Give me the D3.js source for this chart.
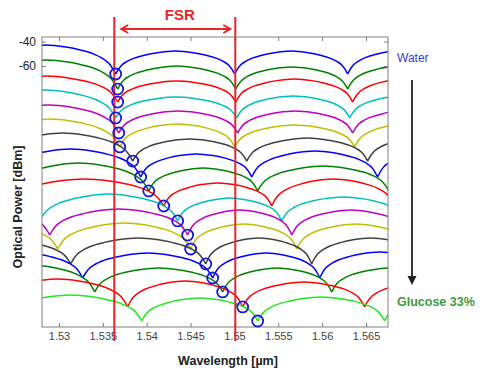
<!DOCTYPE html>
<html>
<head>
<meta charset="utf-8">
<script src="https://cdn.jsdelivr.net/npm/d3@7"></script>
<style>
body { margin: 0; background: #fff; }
svg { display: block; font-family: "Liberation Sans", Arial, Helvetica, sans-serif; }
</style>
</head>
<body>
<svg id="chart"></svg>
<script>
var width = 480;
var height = 371;

// axis ticks
var waveTicks = [1.53, 1.535, 1.54, 1.545, 1.55, 1.555, 1.56, 1.565];
var powerTicks = [-40, -60];

// one trace per glucose step, water on top
var traceColors = ["#0000ff", "#008000", "#ff0000", "#00bfbf", "#bf00bf", "#bfbf00", "#404040",
                   "#0000ff", "#008000", "#ff0000", "#00bfbf", "#bf00bf", "#bfbf00", "#404040",
                   "#0000ff", "#008000", "#ff0000", "#22e622"];

// resonance wavelengths of every trace [um] (first/last ones lie just outside the window)
var traceDips = [
  [1.52027, 1.53646, 1.55003, 1.56291, 1.57637],
  [1.52050, 1.53669, 1.55015, 1.56291, 1.57637],
  [1.52050, 1.53669, 1.55015, 1.56348, 1.57682],
  [1.52027, 1.53646, 1.55026, 1.56314, 1.57660],
  [1.52085, 1.53681, 1.55037, 1.56348, 1.57682],
  [1.52096, 1.53692, 1.55003, 1.56371, 1.57705],
  [1.52244, 1.53840, 1.55140, 1.56519, 1.57853],
  [1.52335, 1.53931, 1.55197, 1.56633, 1.57967],
  [1.52427, 1.54023, 1.55265, 1.56759, 1.58081],
  [1.52381, 1.54194, 1.55425, 1.56827, 1.58161],
  [1.51241, 1.52780, 1.54353, 1.55539, 1.56941, 1.58252],
  [1.51355, 1.52894, 1.54467, 1.55653, 1.56998],
  [1.51469, 1.52985, 1.54501, 1.55710, 1.57055],
  [1.51640, 1.53133, 1.54673, 1.55881, 1.57226],
  [1.51754, 1.53270, 1.54752, 1.55972, 1.57340],
  [1.51925, 1.53407, 1.54866, 1.56109, 1.57454],
  [1.52187, 1.53783, 1.55094, 1.56485, 1.57853],
  [1.52324, 1.53943, 1.55265, 1.56713, 1.58081]
];

// power at the bottom of the notches [dBm]
var dipLevel = [-66.5, -78.8, -89.4, -102.4, -114.7, -126.1, -137.6, -150.6, -162.0,
                -174.3, -186.5, -198.0, -209.4, -221.6, -233.1, -244.5, -256.7, -268.2];

// power at the top of each arch between two notches [dBm]
var archTop = [
  [-42.9, -47.8, -47.8, -46.9],
  [-55.1, -60.0, -60.8, -59.2],
  [-68.2, -72.2, -70.6, -69.8],
  [-79.6, -85.3, -84.5, -83.7],
  [-91.8, -96.7, -96.7, -95.9],
  [-103.3, -107.3, -108.2, -106.5],
  [-114.7, -119.6, -118.8, -118.0],
  [-127.8, -131.8, -129.4, -129.4],
  [-139.2, -143.3, -141.6, -141.6],
  [-152.2, -155.5, -152.2, -153.1],
  [-165.3, -164.5, -167.8, -166.9, -166.9],
  [-176.7, -176.7, -177.5, -177.5],
  [-189.0, -188.2, -189.0, -189.0],
  [-202.2, -200.4, -200.4, -200.4],
  [-211.8, -212.7, -212.7, -211.8],
  [-222.4, -224.9, -224.9, -224.9],
  [-233.9, -235.5, -236.3, -236.3],
  [-247.0, -249.4, -248.6, -247.8]
];

// tracked resonance (circled) for each trace [um]
var circledDip = [1.53646, 1.53669, 1.53669, 1.53646, 1.53681, 1.53692, 1.53840, 1.53931, 1.54023,
                  1.54194, 1.54353, 1.54467, 1.54501, 1.54673, 1.54752, 1.54866, 1.55094, 1.55265];

// FSR markers [um]
var fsrMarks = [1.5363, 1.5501];

// notch profile: position in arch -> fraction of arch height
var notchPos = [0, 0.02, 0.05, 0.1, 0.15, 0.25, 0.35, 0.5];
var notchRise = [0, 0.18, 0.38, 0.56, 0.68, 0.83, 0.93, 1];

var svg = d3.select("#chart")
    .attr("width", width)
    .attr("height", height);

var x = d3.scaleLinear().domain([1.52806, 1.56751]).range([42, 388]);
var y = d3.scaleLinear().domain([-273.1, -36.3]).range([327, 37]);

svg.append("clipPath")
    .attr("id", "plot-clip")
  .append("rect")
    .attr("x", x.range()[0])
    .attr("y", y.range()[1])
    .attr("width", x.range()[1] - x.range()[0])
    .attr("height", y.range()[0] - y.range()[1]);

var line = d3.line()
    .x(function(d) { return x(d[0]); })
    .y(function(d) { return y(d[1]); })
    .curve(d3.curveMonotoneX);

function archPoints(a, b, lo, hi) {
  var pts = [];
  notchPos.forEach(function(f, i) {
    pts.push([a + f * (b - a), lo + notchRise[i] * (hi - lo)]);
  });
  for (var i = notchPos.length - 2; i >= 0; i--) {
    pts.push([b - notchPos[i] * (b - a), lo + notchRise[i] * (hi - lo)]);
  }
  return pts;
}

var traces = svg.append("g").attr("clip-path", "url(#plot-clip)");

traceDips.forEach(function(dips, t) {
  var d = "";
  for (var k = 0; k < dips.length - 1; k++) {
    d += line(archPoints(dips[k], dips[k + 1], dipLevel[t], archTop[t][k]));
  }
  traces.append("path")
      .attr("d", d)
      .attr("fill", "none")
      .attr("stroke", traceColors[t])
      .attr("stroke-width", 1.5)
      .attr("stroke-linejoin", "round");
});

// axes
var axisColor = "#808080";
var plain = function(d) { return String(d); };
var xAxis = svg.append("g")
    .attr("transform", "translate(0," + y.range()[0] + ")")
    .call(d3.axisBottom(x).tickValues(waveTicks).tickSizeInner(-4).tickSizeOuter(0).tickPadding(5)
      .tickFormat(plain));
svg.append("g")
    .attr("transform", "translate(0," + y.range()[1] + ")")
    .call(d3.axisTop(x).tickValues(waveTicks).tickSizeInner(-4).tickSizeOuter(0).tickFormat(""));
var yAxis = svg.append("g")
    .attr("transform", "translate(" + x.range()[0] + ",0)")
    .call(d3.axisLeft(y).tickValues(powerTicks).tickSizeInner(-4).tickSizeOuter(0).tickPadding(6)
      .tickFormat(plain));
svg.append("g")
    .attr("transform", "translate(" + x.range()[1] + ",0)")
    .call(d3.axisRight(y).tickValues(powerTicks).tickSizeInner(-4).tickSizeOuter(0).tickFormat(""));

svg.selectAll(".domain").remove();
svg.selectAll(".tick line").attr("stroke", axisColor);
xAxis.selectAll("text").attr("font-size", 11).attr("fill", "#444").attr("font-family", null);
yAxis.selectAll("text").attr("font-size", 12).attr("fill", "#222").attr("font-family", null);

svg.append("rect")
    .attr("x", x.range()[0])
    .attr("y", y.range()[1])
    .attr("width", x.range()[1] - x.range()[0])
    .attr("height", y.range()[0] - y.range()[1])
    .attr("fill", "none")
    .attr("stroke", axisColor)
    .attr("stroke-width", 1);

// FSR markers
svg.selectAll(".fsr")
    .data(fsrMarks)
  .enter().append("line")
    .attr("class", "fsr")
    .attr("x1", function(d) { return x(d); })
    .attr("x2", function(d) { return x(d); })
    .attr("y1", 17)
    .attr("y2", 341)
    .attr("stroke", "#e8262a")
    .attr("stroke-width", 2);

var ay = 29, ax1 = x(fsrMarks[0]) + 7, ax2 = x(fsrMarks[1]) - 5;
svg.append("path")
    .attr("d", "M" + ax1 + "," + ay + "H" + ax2 +
               "M" + (ax1 + 7) + "," + (ay - 4) + "L" + ax1 + "," + ay + "L" + (ax1 + 7) + "," + (ay + 4) +
               "M" + (ax2 - 7) + "," + (ay - 4) + "L" + ax2 + "," + ay + "L" + (ax2 - 7) + "," + (ay + 4))
    .attr("fill", "none")
    .attr("stroke", "#e8262a")
    .attr("stroke-width", 2);

svg.append("text")
    .attr("x", (ax1 + ax2) / 2 + 4)
    .attr("y", 20)
    .attr("text-anchor", "middle")
    .attr("font-size", 15)
    .attr("font-weight", "bold")
    .attr("fill", "#e8262a")
    .text("FSR");

// circled resonances
svg.append("g").selectAll("circle")
    .data(circledDip)
  .enter().append("circle")
    .attr("cx", function(d) { return x(d); })
    .attr("cy", function(d, i) { return y(dipLevel[i]); })
    .attr("r", 5.5)
    .attr("fill", "none")
    .attr("stroke", "#1a1ad6")
    .attr("stroke-width", 1.8);

// labels
svg.append("text")
    .attr("x", 228)
    .attr("y", 365)
    .attr("text-anchor", "middle")
    .attr("font-size", 12.5)
    .attr("font-weight", "bold")
    .attr("fill", "#222")
    .text("Wavelength [µm]");

svg.append("text")
    .attr("transform", "translate(22,207) rotate(-90)")
    .attr("text-anchor", "middle")
    .attr("font-size", 12.5)
    .attr("font-weight", "bold")
    .attr("fill", "#222")
    .text("Optical Power [dBm]");

svg.append("text")
    .attr("x", 397)
    .attr("y", 62)
    .attr("font-size", 12)
    .attr("fill", "#3b3be0")
    .text("Water");

svg.append("text")
    .attr("x", 397)
    .attr("y", 306)
    .attr("font-size", 12.5)
    .attr("font-weight", "bold")
    .attr("fill", "#3f9a3f")
    .text("Glucose 33%");

svg.append("line")
    .attr("x1", 412).attr("x2", 412)
    .attr("y1", 80).attr("y2", 278)
    .attr("stroke", "#222")
    .attr("stroke-width", 1.8);
svg.append("path")
    .attr("d", "M407.5,276L412,285L416.5,276Z")
    .attr("fill", "#222");
</script>
</body>
</html>
